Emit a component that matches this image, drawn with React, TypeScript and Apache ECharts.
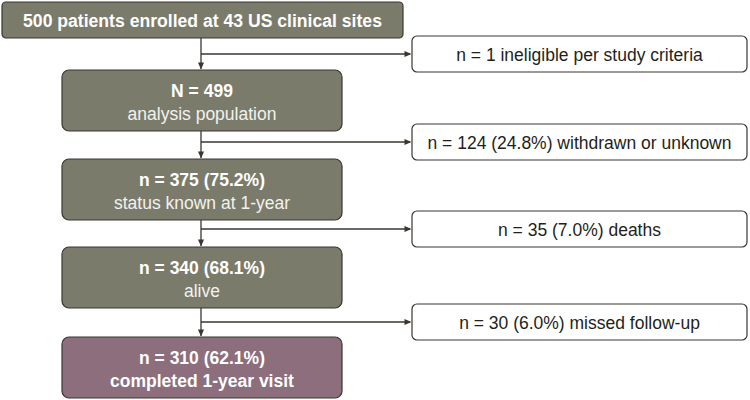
import React, { useEffect, useRef } from "react";
import * as echarts from "echarts";

// ---- data ----
const enrollmentLabel = ["500 patients enrolled at 43 US clinical sites"];
const stageCounts = ["N = 499", "n = 375 (75.2%)", "n = 340 (68.1%)", "n = 310 (62.1%)"];
const stageLabels = ["analysis population", "status known at 1-year", "alive", "completed 1-year visit"];
const exclusionLabels = [
  "n = 1 ineligible per study criteria",
  "n = 124 (24.8%) withdrawn or unknown",
  "n = 35 (7.0%) deaths",
  "n = 30 (6.0%) missed follow-up",
];

// ---- layout (chart units, 750 x 400) ----
const TOP_BOX = { x0: 2, x1: 403, y0: 2, y1: 38 };
const MAIN_X0 = 62;
const MAIN_X1 = 342;
const MAIN_TOPS = [70, 159, 247, 337];
const MAIN_H = 61;
const SPINE_X = 201;
const BRANCH_Y = [54, 142, 229, 322];
const EXC_X0 = 412;
const EXC_X1 = 747;
const EXC_H = 36;

const GRAY = "#7b7b6b";
const PURPLE = "#8c6e7d";
const BORDER = "#3b3630";
const FONT = "Liberation Sans, Arial, Helvetica, sans-serif";

function arrowDown(x: number, y: number) {
  return { type: "polygon", shape: { points: [[x - 3, y - 7], [x + 3, y - 7], [x, y]] }, style: { fill: BORDER } };
}
function arrowRight(x: number, y: number) {
  return { type: "polygon", shape: { points: [[x - 7, y - 3], [x - 7, y + 3], [x, y]] }, style: { fill: BORDER } };
}

export default function App() {
  const ref = useRef<HTMLDivElement>(null);
  useEffect(() => {
    document.body.style.margin = "0";
    const chart = echarts.init(ref.current!, null, { renderer: "svg" });
    const option: any = {
      animation: false,
      backgroundColor: "#ffffff",
      grid: { left: 0, right: 0, top: 0, bottom: 0 },
      xAxis: { type: "value", min: 0, max: 750, show: false },
      yAxis: { type: "value", min: 0, max: 400, inverse: true, show: false },
      series: [
        {
          type: "custom",
          clip: false,
          data: enrollmentLabel.map((_, i) => [i]),
          renderItem: (params: any, api: any) => {
            const i = api.value(0);
            const [x0, y0] = api.coord([TOP_BOX.x0, TOP_BOX.y0]);
            const [x1, y1] = api.coord([TOP_BOX.x1, TOP_BOX.y1]);
            return {
              type: "group",
              children: [
                { type: "rect", shape: { x: x0, y: y0, width: x1 - x0, height: y1 - y0, r: 4 }, style: { fill: GRAY, stroke: BORDER, lineWidth: 1.2 } },
                { type: "text", style: { text: enrollmentLabel[i], x: (x0 + x1) / 2, y: (y0 + y1) / 2 + 1, align: "center", verticalAlign: "middle", fill: "#ffffff", fontSize: 17.6, fontWeight: "bold", fontFamily: FONT } },
              ],
            };
          },
        },
        {
          type: "custom",
          clip: false,
          data: stageCounts.map((_, i) => [i]),
          renderItem: (params: any, api: any) => {
            const i = api.value(0);
            const top = MAIN_TOPS[i];
            const prevBottom = i === 0 ? TOP_BOX.y1 : MAIN_TOPS[i - 1] + MAIN_H;
            const [x0, y0] = api.coord([MAIN_X0, top]);
            const [x1, y1] = api.coord([MAIN_X1, top + MAIN_H]);
            const [sx, sy0] = api.coord([SPINE_X, prevBottom]);
            const [, by] = api.coord([SPINE_X, BRANCH_Y[i]]);
            const [ex0] = api.coord([EXC_X0, 0]);
            const [ex1] = api.coord([EXC_X1, 0]);
            const [, ey0] = api.coord([0, BRANCH_Y[i] - EXC_H / 2]);
            const [, ey1] = api.coord([0, BRANCH_Y[i] + EXC_H / 2]);
            const cy = (y0 + y1) / 2;
            const last = i === stageCounts.length - 1;
            const sub = last
              ? { fill: "#ffffff", fontWeight: "bold" }
              : { fill: "#f2f2ee", fontWeight: "normal" };
            return {
              type: "group",
              children: [
                { type: "line", shape: { x1: sx, y1: sy0, x2: sx, y2: y0 - 1 }, style: { stroke: BORDER, lineWidth: 1.3 } },
                arrowDown(sx, y0 - 0.5),
                { type: "line", shape: { x1: sx, y1: by, x2: ex0 - 2, y2: by }, style: { stroke: BORDER, lineWidth: 1.3 } },
                arrowRight(ex0 - 0.5, by),
                { type: "rect", shape: { x: x0, y: y0, width: x1 - x0, height: y1 - y0, r: 7 }, style: { fill: last ? PURPLE : GRAY, stroke: BORDER, lineWidth: 1.2 } },
                { type: "text", style: { text: stageCounts[i], x: (x0 + x1) / 2, y: cy - 10, align: "center", verticalAlign: "middle", fill: "#ffffff", fontSize: 17.5, fontWeight: "bold", fontFamily: FONT } },
                { type: "text", style: { text: stageLabels[i], x: (x0 + x1) / 2, y: cy + 13.5, align: "center", verticalAlign: "middle", fontSize: 17.5, fontFamily: FONT, ...sub } },
                { type: "rect", shape: { x: ex0, y: ey0, width: ex1 - ex0, height: ey1 - ey0, r: 5 }, style: { fill: "#ffffff", stroke: BORDER, lineWidth: 1.2 } },
                { type: "text", style: { text: exclusionLabels[i], x: (ex0 + ex1) / 2, y: (ey0 + ey1) / 2 + 1, align: "center", verticalAlign: "middle", fill: "#231f20", fontSize: 17.5, fontFamily: FONT } },
              ],
            };
          },
        },
      ],
    };
    chart.setOption(option);
    return () => chart.dispose();
  }, []);
  return <div ref={ref} style={{ width: 750, height: 400 }} />;
}
